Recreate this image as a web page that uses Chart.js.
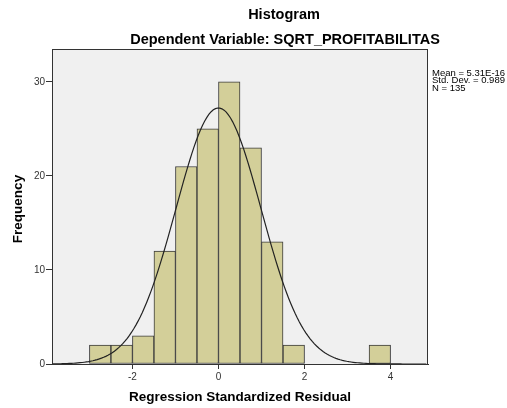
<!DOCTYPE html>
<html>
<head>
<meta charset="utf-8">
<script src="https://cdn.jsdelivr.net/npm/chart.js@4"></script>
<style>
  html, body { margin: 0; padding: 0; background: #fff; }
  #wrap { width: 507px; height: 408px; }
</style>
</head>
<body>
<div id="wrap"><canvas id="histChart" width="507" height="408"></canvas></div>
<script>
// Histogram of regression residuals (SPSS style)

// bin centres (bin width 0.5) and frequencies
const binCenters = [-2.75, -2.25, -1.75, -1.25, -0.75, -0.25, 0.25, 0.75, 1.25, 1.75, 3.75];
const frequencies = [2, 2, 3, 12, 21, 25, 30, 23, 13, 2, 2];
const binWidth = 0.5;

// summary stats shown in the side note
const statLines = ['Mean = 5.31E-16', 'Std. Dev. = 0.989', 'N = 135'];
const mean = 5.31e-16;
const stdDev = 0.989;
const nCases = 135;

const xTicks = [-2, 0, 2, 4];
const yTicks = [0, 10, 20, 30];

const FONT = '"Liberation Sans", Arial, sans-serif';

// fitted normal curve, scaled to counts per bin
const curvePts = [];
for (let x = -3.87; x <= 4.87; x += 0.05) {
    const z = (x - mean) / stdDev;
    const y = nCases * binWidth * Math.exp(-0.5 * z * z) / (stdDev * Math.sqrt(2 * Math.PI));
    curvePts.push({ x: x, y: y });
}

const barPts = binCenters.map((c, i) => ({ x: c, y: frequencies[i] }));

// background + frame + titles drawn around the chart area
const decorPlugin = {
    id: 'decor',
    beforeDatasetsDraw(chart) {
        const { ctx, chartArea: a } = chart;
        ctx.save();
        ctx.fillStyle = '#f0f0f0';
        ctx.fillRect(a.left, a.top, a.right - a.left, a.bottom - a.top);
        ctx.restore();
    },
    afterDraw(chart) {
        const { ctx, chartArea: a } = chart;
        ctx.save();
        ctx.strokeStyle = '#333';
        ctx.lineWidth = 1;
        ctx.strokeRect(a.left + 0.5, a.top + 0.5, a.right - a.left - 1, a.bottom - a.top);

        ctx.fillStyle = '#000';
        ctx.textAlign = 'center';
        ctx.textBaseline = 'middle';
        ctx.font = 'bold 14.5px ' + FONT;
        ctx.fillText('Histogram', 284, 15);
        ctx.fillText('Dependent Variable: SQRT_PROFITABILITAS', 285, 40);

        ctx.font = 'bold 13.5px ' + FONT;
        ctx.fillText('Regression Standardized Residual', 240, 397);
        ctx.save();
        ctx.translate(18, 209);
        ctx.rotate(-Math.PI / 2);
        ctx.fillText('Frequency', 0, 0);
        ctx.restore();

        ctx.font = '9.5px ' + FONT;
        ctx.textAlign = 'left';
        statLines.forEach((s, i) => ctx.fillText(s, 432, 73 + i * 7.5));
        ctx.restore();
    }
};

new Chart(document.getElementById('histChart'), {
    type: 'bar',
    data: {
        datasets: [{
            type: 'line',
            data: curvePts,
            borderColor: '#222',
            borderWidth: 1.2,
            pointRadius: 0,
            tension: 0,
            fill: false,
            order: 0
        }, {
            data: barPts,
            backgroundColor: '#d3cf99',
            borderColor: '#3a3a3a',
            borderWidth: 1,
            borderSkipped: false,
            barPercentage: 1,
            categoryPercentage: 1,
            order: 1
        }]
    },
    plugins: [decorPlugin],
    options: {
        responsive: false,
        animation: false,
        events: [],
        layout: { padding: { left: 0, top: 49, right: 79, bottom: 0 } },
        plugins: {
            legend: { display: false },
            tooltip: { enabled: false },
            title: { display: false }
        },
        scales: {
            x: {
                type: 'linear',
                offset: false,
                min: -3.87,
                max: 4.87,
                afterFit: (s) => { s.height = 44; },
                afterBuildTicks: (s) => { s.ticks = xTicks.map(v => ({ value: v })); },
                grid: { offset: false, drawOnChartArea: false, tickLength: 5, color: '#333' },
                border: { color: '#333' },
                ticks: { color: '#333', font: { family: FONT, size: 10 }, padding: 2 }
            },
            y: {
                min: 0,
                max: 33.5,
                afterFit: (s) => { s.width = 52; },
                afterBuildTicks: (s) => { s.ticks = yTicks.map(v => ({ value: v })); },
                grid: { drawOnChartArea: false, tickLength: 6, color: '#333' },
                border: { color: '#333' },
                ticks: { color: '#333', font: { family: FONT, size: 10 }, padding: 1 }
            }
        }
    }
});
</script>
</body>
</html>
